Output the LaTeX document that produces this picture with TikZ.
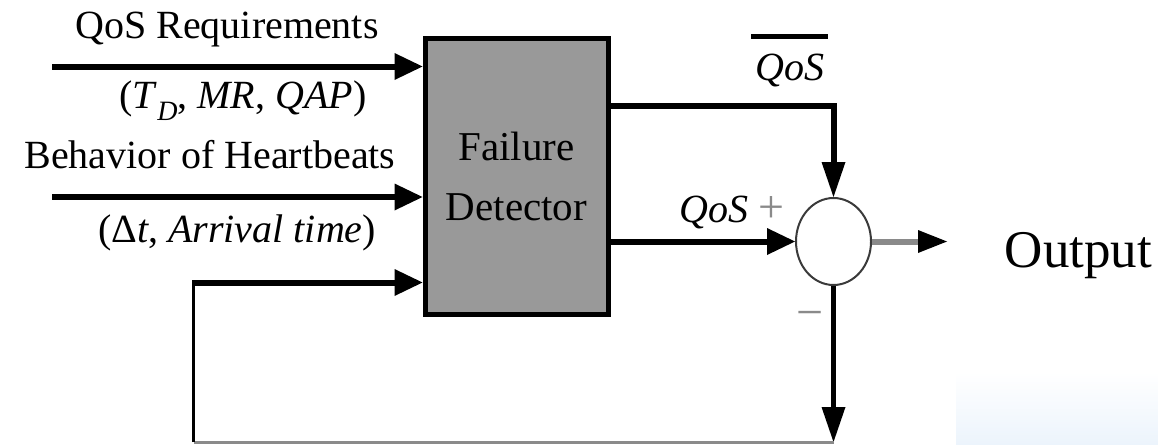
\documentclass[tikz,border=0pt]{standalone}
\usepackage{fontspec}
\setmainfont{Liberation Serif}
\usetikzlibrary{arrows.meta,shapes.geometric}
\definecolor{boxgray}{HTML}{999999}
\definecolor{linegray}{HTML}{8A8A8A}
\definecolor{ringgray}{HTML}{3A3A3A}
\definecolor{paleblue}{HTML}{ECF4FC}
\tikzset{
  hhead/.tip={Triangle[length=28pt,width=27pt,line width=0pt]},
  vhead/.tip={Triangle[length=35pt,width=24pt,line width=0pt]},
  lbl/.style={font=\fontsize{40}{48}\selectfont, inner sep=0pt, anchor=base},
  fdbox/.style={draw=black, fill=boxgray, line width=5pt, minimum width=183pt,
    minimum height=275pt, inner sep=0pt, outer sep=2.5pt, align=center,
    font=\fontsize{41}{60}\selectfont},
  sumnode/.style={ellipse, draw=ringgray, line width=2pt, minimum width=75pt,
    minimum height=87pt, inner sep=0pt, outer sep=1pt},
  sig/.style={line width=6pt, -hhead},
  vsig/.style={line width=6pt, -vhead},
}
\begin{document}
\begin{tikzpicture}[x=1pt,y=-1pt]
\useasboundingbox (0,0) rectangle (1158,444);
% pale corner panel
\shade[top color=white,bottom color=paleblue] (956,372) rectangle (1158,444);

% blocks
\node[fdbox] (fd) at (516.5,176.5) {Failure\\Detector};
\node[sumnode] (sum) at (833.5,241.5) {};

% route points
\coordinate (qin) at (52,66.5);
\coordinate (hin) at (52,197);
\coordinate (fbtop) at (192,282.5);
\coordinate (fbcorner) at (193.5,442);
\coordinate (fbend) at (833.5,442);
\coordinate (qbarin) at (833.5,106);
\coordinate (outtip) at (947,241.5);
\coordinate (barlevel) at (0,36.5);

% inputs
\draw[sig] (qin) -- (qin -| fd.west);
\draw[sig] (hin) -- (hin -| fd.west);
\draw[sig] (fbtop) -- (fbtop -| fd.west);

% outputs of the detector
\draw[vsig] (qbarin -| fd.east) -- (qbarin) -- (sum.north);
\draw[sig] (fd.east |- sum.west) -- (sum.west);
\draw[line width=6pt, linegray,
  -{Triangle[length=29pt,width=23pt,line width=0pt,color=black]}] (sum.east) -- (outtip);

% feedback loop
\draw[line width=5pt, -vhead] (sum.south) -- (fbend);
\draw[line width=3pt, linegray] (fbend) -- (fbcorner);
\draw[line width=3pt] (fbcorner) -- (fbcorner |- fbtop);

% labels
\node[lbl] (qreq) at (227,38) {QoS Requirements};
\node[lbl] (qparams) at (243,108) {(\textit{T}\raisebox{-0.3em}{\fontsize{28}{28}\selectfont\textit{D}}, \textit{MR}, \textit{QAP})};
\node[lbl] (hb) at (210,168) {Behavior of Heartbeats};
\node[lbl] (hbparams) at (237,242) {(Δ\textit{t}, \textit{Arrival time})};
\node[lbl] (qbar) at (790,80) {\textit{QoS}};
\draw[line width=5pt] ([xshift=-4pt]qbar.west |- barlevel) -- ([xshift=3pt]qbar.east |- barlevel);
\node[lbl] (qplus) at (732,222) {\textit{QoS} \textcolor{linegray}{\fontsize{46}{48}\selectfont +}};
\node[lbl, text=linegray, font=\fontsize{48}{48}\selectfont] (minus) at (810,328) {−};
\node[lbl, font=\fontsize{53}{60}\selectfont] (outlbl) at (1078.5,267) {Output};
\end{tikzpicture}
\end{document}
